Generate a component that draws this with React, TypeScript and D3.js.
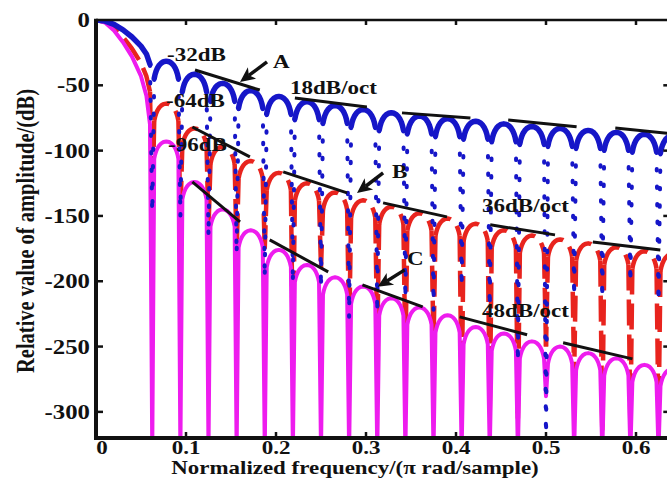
import React from "react";
import * as d3 from "d3";

const W = 667;
const H = 479;

// ---- data ----
const xTickValues = [0, 0.1, 0.2, 0.3, 0.4, 0.5, 0.6];
const xTickLabels = ["0", "0.1", "0.2", "0.3", "0.4", "0.5", "0.6"];
const yTickValues = [0, -50, -100, -150, -200, -250, -300];
const yTickLabels = ["0", "-50", "-100", "-150", "-200", "-250", "-300"];

// null frequencies shared by the three spectra
const nullFreqs = [0.0625, 0.09375, 0.125, 0.15625, 0.1875, 0.21875, 0.25, 0.28125, 0.3125, 0.34375, 0.375, 0.40625, 0.4375, 0.46875, 0.5, 0.53125, 0.5625, 0.59375, 0.625, 0.65625];

// main lobe samples
const mainLobeFreqs = [0, 0.01, 0.02, 0.03, 0.04, 0.05, 0.056, 0.06];
const blueMainLobe = [0, -0.8, -3.3, -7.5, -13, -20, -26, -34];
const redMainLobe = [0, -1.3, -5.5, -13, -22, -33, -43, -55];
const magentaMainLobe = [0, -2, -8, -17, -28, -43, -58, -80];

// side-lobe peak levels (dB), one per lobe between consecutive nulls
const blueSidelobePeaks = [-31.5, -41.5, -48.5, -54, -58.5, -62.5, -65.5, -68.5, -71, -73.5, -75.5, -77.5, -79.5, -81.5, -83, -84.5, -86, -87.5, -88.5];
const redSidelobePeaks = [-64, -83, -97, -108, -117, -125, -132, -138, -143, -148, -152, -156, -161, -165, -168, -171, -174, -177, -179];
const magentaSidelobePeaks = [-93, -124, -145, -161, -176, -187.5, -197, -204, -213, -220, -226, -235, -240, -246, -250, -255, -259, -264, -267];

// depth reached at each null (dB)
const blueNullDepths = [-150, -150, -165, -180, -196, -199, -205, -228, -224, -215, -222, -205, -222, -262, -325, -210, -212, -200, -215, -210];
const redNullDepths = [-150, -150, -160, -178, -175, -258, -190, -240, -246, -258, -250, -290, -300, -305, -250, -273, -314, -314, -310, -300];
const magentaNullDepths = [-330, -330, -330, -330, -330, -330, -330, -330, -330, -330, -330, -330, -330, -330, -288, -330, -330, -330, -330, -330];

// asymptote segments [f1, dB1, f2, dB2]
const asymptoteA = [
  [0.11, -38.3, 0.182, -53.6],
  [0.221, -59.7, 0.301, -66.6],
  [0.34, -71.1, 0.416, -75],
  [0.458, -76.5, 0.534, -81.8],
  [0.577, -82.6, 0.64, -87],
];
const asymptoteB = [
  [0.107, -81.9, 0.171, -104.8],
  [0.208, -116.3, 0.279, -132.4],
  [0.319, -140, 0.39, -150.7],
  [0.438, -156.8, 0.51, -164.5],
  [0.552, -169.9, 0.627, -176],
];
const asymptoteC = [
  [0.107, -123.9, 0.16, -154.5],
  [0.193, -168.3, 0.258, -192.8],
  [0.296, -202.8, 0.363, -219.6],
  [0.404, -227.3, 0.479, -241],
  [0.519, -247.1, 0.596, -259.4],
];

// annotation texts [label, f, dB]
const annotationTexts: [string, number, number][] = [
  ["-32dB", 0.0789, -31.4],
  ["-64dB", 0.0778, -66.6],
  ["-96dB", 0.08, -100.3],
  ["18dB/oct", 0.2156, -56.6],
  ["36dB/oct", 0.4289, -147],
  ["48dB/oct", 0.4289, -227.4],
  ["A", 0.1967, -36.7],
  ["B", 0.3289, -121],
  ["C", 0.3456, -187.6],
];
// arrows [tailF, tailDb, tipF, tipDb]
const arrows = [
  [0.19, -32.1, 0.16, -47.4],
  [0.319, -117.1, 0.29, -132.4],
  [0.343, -191.3, 0.313, -204.3],
];

// ---- layout ----
const xS = d3.scaleLinear().domain([0, 0.637]).range([96, 669.3]);
const yS = d3.scaleLinear().domain([-320, 0]).range([438, 20]);
const lineGen = d3
  .line<[number, number]>()
  .x((d) => xS(d[0]))
  .y((d) => yS(d[1]));

const SX = 1.18;
const FONT = "'Liberation Serif','Times New Roman',serif";
const BLUE = "#1616c8";
const RED = "#e8241e";
const MAGENTA = "#ee1cee";

// parameter positions inside one side lobe used to trace its rounded top
const LOBE_T = [0.07, 0.1, 0.14, 0.19, 0.25, 0.32, 0.4, 0.5, 0.6, 0.68, 0.75, 0.81, 0.86, 0.9, 0.93];

function buildSpectrum(main: number[], peaks: number[], depths: number[]) {
  const tops: [number, number][][] = [];
  const drops: [number, number][][] = [];
  const full: [number, number][] = [];
  const mainPts = mainLobeFreqs.map((f, i) => [f, main[i]] as [number, number]);
  tops.push(mainPts);
  full.push(...mainPts);
  drops.push([mainPts[mainPts.length - 1], [nullFreqs[0], depths[0]]]);
  full.push([nullFreqs[0], depths[0]]);
  for (let i = 0; i < peaks.length; i++) {
    const a = nullFreqs[i];
    const b = nullFreqs[i + 1];
    const p = peaks[i];
    const arc = LOBE_T.map((t) => [a + t * (b - a), p + 20 * Math.log10(Math.sin(Math.PI * t))] as [number, number]);
    tops.push(arc);
    drops.push([arc[0], [a, depths[i]]]);
    drops.push([arc[arc.length - 1], [b, depths[i + 1]]]);
    full.push(...arc);
    full.push([b, depths[i + 1]]);
  }
  return { tops, drops, full };
}

function SText(props: { x: number; y: number; anchor?: string; size: number; rotate?: number; sx?: number; children: React.ReactNode }) {
  const { x, y, anchor = "start", size, rotate, sx = SX, children } = props;
  return (
    <text
      transform={`translate(${x},${y}) scale(${sx},1)${rotate ? ` rotate(${rotate})` : ""}`}
      textAnchor={anchor}
      fontSize={size}
      fontFamily={FONT}
      fontWeight="bold"
      fill="#111"
    >
      {children}
    </text>
  );
}

export default function App() {
  const blue = buildSpectrum(blueMainLobe, blueSidelobePeaks, blueNullDepths);
  const red = buildSpectrum(redMainLobe, redSidelobePeaks, redNullDepths);
  const mag = buildSpectrum(magentaMainLobe, magentaSidelobePeaks, magentaNullDepths);

  const x0 = xS(0);
  const xR = xS(0.637);
  const yTop = yS(0);
  const yBot = yS(-320);

  const arrowShapes = arrows.map((a, i) => {
    const tx = xS(a[0]);
    const ty = yS(a[1]);
    const hx = xS(a[2]);
    const hy = yS(a[3]);
    const dx = hx - tx;
    const dy = hy - ty;
    const len = Math.hypot(dx, dy);
    const ux = dx / len;
    const uy = dy / len;
    const hl = 15;
    const hw = 7;
    const bx = hx - ux * hl;
    const by = hy - uy * hl;
    const nx = bx + ux * 4;
    const ny = by + uy * 4;
    const pts = `${hx},${hy} ${bx - uy * hw},${by + ux * hw} ${nx},${ny} ${bx + uy * hw},${by - ux * hw}`;
    return (
      <g key={"ar" + i}>
        <line x1={tx} y1={ty} x2={nx} y2={ny} stroke="#111" strokeWidth={3.5} />
        <polygon points={pts} fill="#111" />
      </g>
    );
  });

  const asym = [...asymptoteA, ...asymptoteB, ...asymptoteC];

  return (
    <svg width={W} height={H} style={{ position: "absolute", left: 0, top: 0, background: "#fff" }}>
      <defs>
        <clipPath id="plotClip">
          <rect x={x0} y={yTop} width={xR - x0} height={yBot - yTop} />
        </clipPath>
      </defs>
      <rect x={0} y={0} width={W} height={H} fill="#fff" />
      <g clipPath="url(#plotClip)">
        {/* red dashed spectrum */}
        {red.drops.map((d, i) => (
          <path key={"rd" + i} d={lineGen(d) || ""} fill="none" stroke={RED} strokeWidth={4.5} strokeDasharray="26 9" />
        ))}
        {red.tops.map((d, i) => (
          <path key={"rt" + i} d={lineGen(d) || ""} fill="none" stroke={RED} strokeWidth={4.5} strokeDasharray="26 9" strokeLinejoin="round" />
        ))}
        {/* magenta solid spectrum */}
        <path d={lineGen(mag.full) || ""} fill="none" stroke={MAGENTA} strokeWidth={4} strokeLinejoin="round" />
        {/* blue dotted spectrum */}
        {blue.drops.map((d, i) => (
          <path key={"bd" + i} d={lineGen(d) || ""} fill="none" stroke={BLUE} strokeWidth={4} strokeDasharray="1.5 16" strokeLinecap="round" />
        ))}
        {blue.tops.map((d, i) => (
          <path key={"bt" + i} d={lineGen(d) || ""} fill="none" stroke={BLUE} strokeWidth={5.5} strokeLinejoin="round" strokeLinecap="round" />
        ))}
        {/* asymptotes */}
        {asym.map((s, i) => (
          <line key={"as" + i} x1={xS(s[0])} y1={yS(s[1])} x2={xS(s[2])} y2={yS(s[3])} stroke="#111" strokeWidth={3} />
        ))}
      </g>

      {/* axes */}
      <line x1={x0} y1={yTop} x2={W} y2={yTop} stroke="#111" strokeWidth={2.6} />
      <line x1={x0} y1={yTop - 1.3} x2={x0} y2={yBot + 2} stroke="#111" strokeWidth={4} />
      <line x1={x0 - 2} y1={yBot} x2={W} y2={yBot} stroke="#111" strokeWidth={4} />
      <line x1={xR} y1={yTop} x2={xR} y2={yBot} stroke="#111" strokeWidth={3} />
      {xTickValues.map((v, i) =>
        i === 0 ? null : (
          <g key={"xt" + i}>
            <line x1={xS(v)} y1={yBot} x2={xS(v)} y2={yBot - 6} stroke="#111" strokeWidth={2.5} />
            <line x1={xS(v)} y1={yTop} x2={xS(v)} y2={yTop + 5} stroke="#111" strokeWidth={2.5} />
          </g>
        )
      )}
      {yTickValues.map((v, i) =>
        i === 0 ? null : (
          <g key={"yt" + i}>
            <line x1={x0} y1={yS(v)} x2={x0 + 7} y2={yS(v)} stroke="#111" strokeWidth={2.5} />
            <line x1={xR} y1={yS(v)} x2={xR - 6} y2={yS(v)} stroke="#111" strokeWidth={2.5} />
          </g>
        )
      )}
      {xTickValues.map((v, i) => (
        <SText key={"xl" + i} x={xS(v) + (i === 0 ? 6 : 0)} y={453.5} anchor="middle" size={19.5}>
          {xTickLabels[i]}
        </SText>
      ))}
      {yTickValues.map((v, i) => (
        <SText key={"yl" + i} x={90} y={yS(v) + 7} anchor="end" size={21}>
          {yTickLabels[i]}
        </SText>
      ))}
      <SText x={355} y={474} anchor="middle" size={18.5} sx={1.24}>
        Normalized frequency/(π rad/sample)
      </SText>
      <SText x={34} y={231} anchor="middle" size={20.5} rotate={-90}>
        Relative value of amplitude/(dB)
      </SText>

      {/* annotations */}
      {annotationTexts.map((a, i) => (
        <SText key={"an" + i} x={xS(a[1])} y={yS(a[2])} size={19.5}>
          {a[0]}
        </SText>
      ))}
      {arrowShapes}
    </svg>
  );
}
